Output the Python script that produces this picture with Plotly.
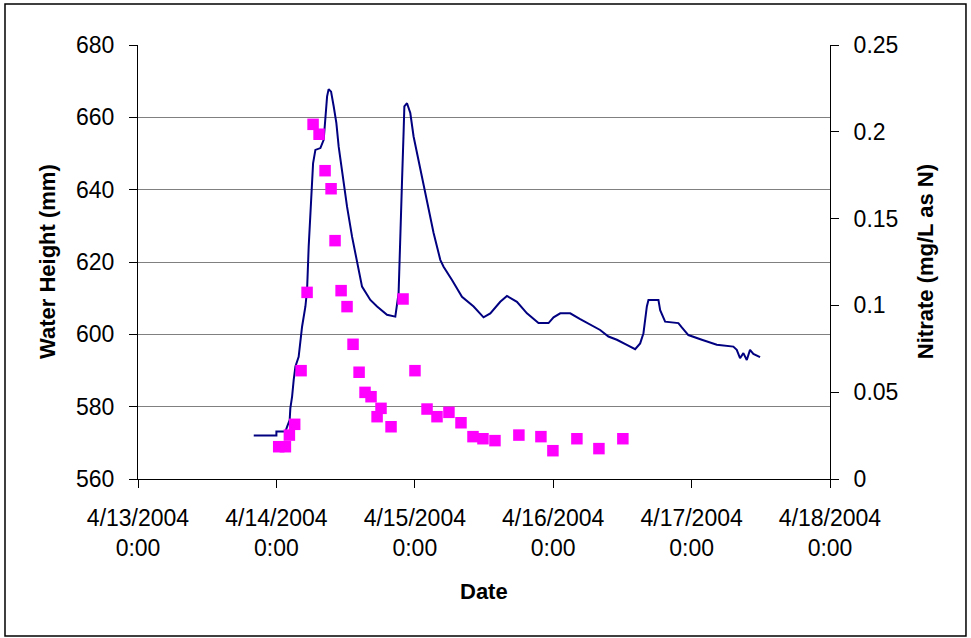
import pandas as pd
import plotly.graph_objects as go

# Water height (mm) line: hours after 4/14/2004 0:00
wh_hours = [-3.93, 0.0, 0.0, 1.56, 1.86, 2.30, 2.42, 2.72, 3.0, 3.30, 3.86, 4.16, 4.45,
            5.03, 5.32, 5.60, 5.89, 6.19, 6.36, 6.76, 7.63, 8.20, 8.49, 8.79, 9.06,
            9.48, 9.94, 10.40, 10.80, 11.39, 12.25, 13.12, 13.99, 14.85, 16.29, 17.46,
            19.18, 20.62, 21.19, 21.49, 21.79, 22.07, 22.19, 22.65, 23.22, 23.79,
            24.38, 25.25, 26.12, 27.26, 28.42, 28.99, 30.45, 32.18, 34.20, 35.92,
            37.09, 38.82, 39.98, 41.71, 43.45, 45.45, 47.19, 48.06, 49.22, 50.95,
            52.68, 54.41, 56.14, 57.58, 59.04, 60.77, 62.21, 63.08, 63.65, 64.24,
            64.52, 66.25, 66.55, 67.41, 69.71, 70.30, 71.44, 73.77, 76.37, 79.24,
            79.83, 80.40, 80.98, 81.57, 82.13, 82.71, 83.87]
wh_mm = [572.0, 572.0, 573.1, 573.1, 574.5, 576.3, 579.6, 582.8, 587.4, 591.1, 593.8,
         598.5, 602.1, 607.7, 612.3, 624.3, 633.5, 640.9, 647.3, 651.0, 651.5, 653.8,
         661.2, 665.8, 667.8, 667.1, 663.0, 658.4, 651.9, 644.6, 635.3, 627.0, 619.7,
         613.2, 609.5, 607.7, 605.4, 604.9, 611.4, 624.3, 642.7, 656.5, 663.0, 663.9,
         661.2, 654.7, 650.1, 642.7, 636.3, 628.0, 620.6, 618.7, 615.0, 610.4, 607.7,
         604.7, 605.8, 609.0, 610.6, 609.0, 605.8, 603.1, 603.1, 604.7, 605.8, 605.8,
         604.2, 602.6, 601.2, 599.4, 598.5, 597.1, 595.9, 597.5, 600.3, 607.7, 609.5,
         609.5, 606.7, 603.5, 603.1, 601.9, 599.8, 598.5, 597.1, 596.6, 595.7, 593.4,
         594.8, 592.9, 595.7, 594.6, 593.7]

# Nitrate samples (mg/L as N)
no3_hours = [0.40, 1.56, 2.25, 3.17, 4.28, 5.32, 6.36, 7.40, 8.44, 9.48, 10.17, 11.22,
             12.25, 13.29, 14.34, 15.37, 16.41, 17.46, 18.14, 19.88, 21.96, 24.03,
             26.12, 27.85, 29.92, 32.01, 34.09, 35.82, 37.90, 42.05, 45.87, 47.95,
             52.11, 55.93, 60.08]
no3_vals = [0.0186, 0.0186, 0.0253, 0.0315, 0.0624, 0.1075, 0.2043, 0.1986, 0.1776,
            0.1672, 0.1373, 0.1085, 0.0993, 0.0776, 0.0615, 0.0499, 0.0474, 0.0359,
            0.0407, 0.0301, 0.1037, 0.0624, 0.0403, 0.0359, 0.0384, 0.0324, 0.0244,
            0.0232, 0.0221, 0.0253, 0.0244, 0.0163, 0.0232, 0.0175, 0.0232]

tick_dates = ["2004-04-13", "2004-04-14", "2004-04-15", "2004-04-16", "2004-04-17", "2004-04-18"]
tick_text = ["4/13/2004<br>0:00", "4/14/2004<br>0:00", "4/15/2004<br>0:00",
             "4/16/2004<br>0:00", "4/17/2004<br>0:00", "4/18/2004<br>0:00"]

t0 = pd.Timestamp("2004-04-14 00:00")
wh_time = t0 + pd.to_timedelta(wh_hours, unit="h")
no3_time = t0 + pd.to_timedelta(no3_hours, unit="h")

FONT = "Liberation Sans, Arial, sans-serif"

fig = go.Figure()
fig.add_trace(go.Scatter(x=wh_time, y=wh_mm, mode="lines", name="Water Height",
                         line=dict(color="#000080", width=2), yaxis="y"))
fig.add_trace(go.Scatter(x=no3_time, y=no3_vals, mode="markers", name="Nitrate",
                         marker=dict(symbol="square", size=11.5, color="#FF00FF"),
                         yaxis="y2"))

fig.update_layout(
    width=971, height=638,
    margin=dict(l=138, r=141, t=45, b=159),
    paper_bgcolor="white", plot_bgcolor="white",
    showlegend=False,
    font=dict(family=FONT, size=23, color="black"),
    xaxis=dict(type="date", range=["2004-04-13", "2004-04-18"],
               tickvals=tick_dates, ticktext=tick_text,
               showgrid=False, showline=True, linecolor="black", linewidth=1,
               ticks="outside", ticklen=8, tickcolor="black",
               ticklabelstandoff=10, tickfont=dict(size=23)),
    yaxis=dict(range=[560, 680], dtick=20, showgrid=True, gridcolor="#808080",
               gridwidth=1, zeroline=False, showline=True, linecolor="black",
               linewidth=1, ticks="outside", ticklen=8, tickcolor="black",
               ticklabelstandoff=10, tickfont=dict(size=23)),
    yaxis2=dict(range=[0, 0.25], dtick=0.05, overlaying="y", side="right",
                showgrid=False, zeroline=False, showline=True, linecolor="black",
                linewidth=1, ticks="outside", ticklen=8, tickcolor="black",
                ticklabelstandoff=10, tickfont=dict(size=23)),
    annotations=[
        dict(text="<b>Date</b>", xref="paper", yref="paper", x=0.5, y=-0.26,
             xanchor="center", yanchor="middle", showarrow=False,
             font=dict(size=22)),
        dict(text="<b>Water Height (mm)</b>", xref="paper", yref="paper",
             x=-0.1315, y=0.5, textangle=-90, xanchor="center", yanchor="middle",
             showarrow=False, font=dict(size=22)),
        dict(text="<b>Nitrate (mg/L as N)</b>", xref="paper", yref="paper",
             x=1.1375, y=0.5, textangle=-90, xanchor="center", yanchor="middle",
             showarrow=False, font=dict(size=22)),
    ],
    shapes=[dict(type="rect", xref="paper", yref="paper",
                 x0=-0.1922, x1=1.1965, y0=-0.3618, y1=1.0945,
                 line=dict(color="black", width=1.5), fillcolor="rgba(0,0,0,0)")],
)

fig.write_html("out.html")
